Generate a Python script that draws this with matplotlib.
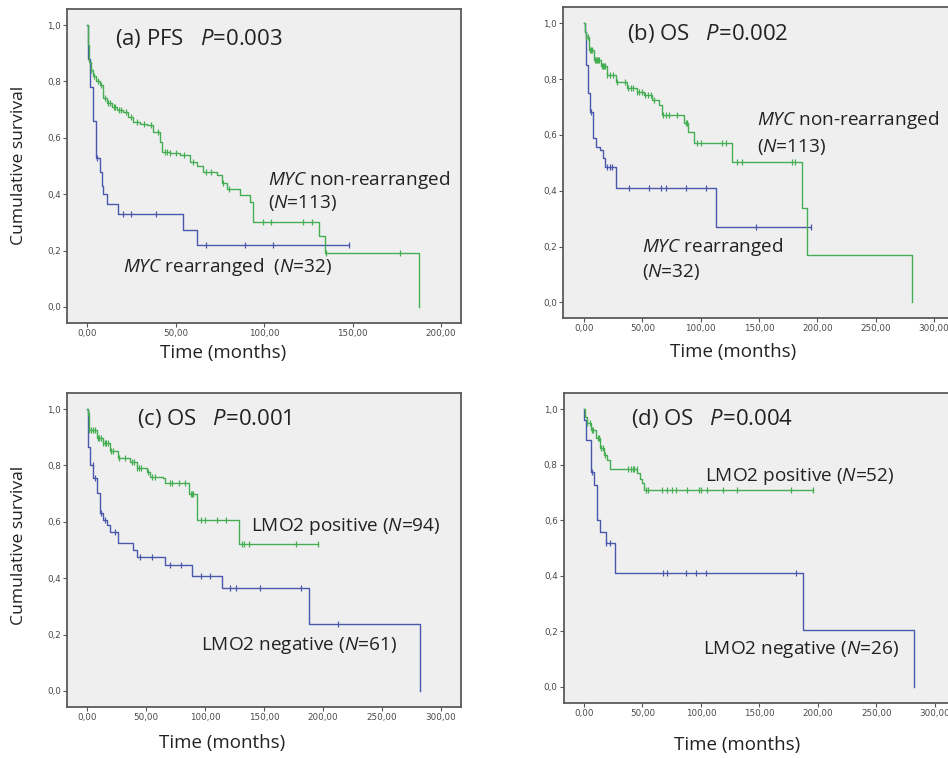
import matplotlib
matplotlib.use("Agg")
import matplotlib.pyplot as plt
import numpy as np
from matplotlib.ticker import FuncFormatter

plt.rcParams['font.family'] = ['Open Sans', 'DejaVu Sans']
plt.rcParams['mathtext.fontset'] = 'custom'
plt.rcParams['mathtext.rm'] = 'Open Sans'
plt.rcParams['mathtext.it'] = 'Open Sans:italic'

GREEN = '#45ad52'
BLUE = '#4a58ac'

# ---- (a) PFS, MYC ----
a_green_t = [0, 0.3, 1, 2, 3.6, 5, 7.3, 9.2, 11.1, 14, 17, 20.5, 23, 26.2, 30, 33.7, 37, 41.2, 42.2,
             47, 52.5, 58.2, 62, 65.7, 73.2, 76, 78.9, 86.4, 92, 93.6, 131, 134.6, 187.4]
a_green_s = [1.0, 0.93, 0.87, 0.84, 0.82, 0.80, 0.787, 0.74, 0.722, 0.71, 0.70, 0.693, 0.675, 0.657,
             0.65, 0.645, 0.62, 0.586, 0.55, 0.545, 0.539, 0.515, 0.50, 0.48, 0.468, 0.44, 0.42,
             0.397, 0.374, 0.30, 0.25, 0.19, 0.0]
a_green_end = 187.4
a_green_cens = [2.5, 4, 6, 8, 10, 12, 13, 15, 16, 18, 19, 22, 25, 28, 32, 36, 40, 44, 45, 47, 50,
                55, 60, 67, 70, 77, 80, 99.7, 104, 122, 127, 135, 177]
a_blue_t = [0, 0.5, 1.5, 3.6, 4.9, 7.3, 8.3, 9.2, 11.1, 17.7, 54.4, 62]
a_blue_s = [1.0, 0.88, 0.78, 0.66, 0.53, 0.48, 0.43, 0.40, 0.366, 0.329, 0.274, 0.22]
a_blue_end = 148
a_blue_cens = [5.5, 20.5, 24.9, 38.8, 67, 89, 105, 148]

# ---- (b) OS, MYC ----
b_green_t = [0, 0.5, 2, 4.3, 8.6, 14.3, 20, 27, 37, 45, 51.4, 58.6, 64.3, 67, 85.7, 89.5, 94, 127,
             187, 191, 281]
b_green_s = [1.0, 0.97, 0.95, 0.904, 0.868, 0.845, 0.815, 0.79, 0.767, 0.755, 0.743, 0.725, 0.707,
             0.672, 0.642, 0.61, 0.57, 0.504, 0.338, 0.169, 0.0]
b_green_end = 281
b_green_cens = [2, 3, 5, 6, 7, 9, 10, 11, 12, 13, 15, 16, 17, 18, 20, 22, 25, 28, 35, 38, 40, 42, 45,
                47, 50, 52, 55, 57, 60, 68, 70, 73, 80, 87, 88, 97, 100, 118, 122, 131, 135, 178, 181]
b_blue_t = [0, 0.5, 2, 3.5, 5, 7.7, 10.6, 13.4, 16.3, 17.7, 27.7, 113.4]
b_blue_s = [1.0, 0.97, 0.85, 0.75, 0.683, 0.588, 0.558, 0.545, 0.516, 0.486, 0.409, 0.271]
b_blue_end = 194.3
b_blue_cens = [6, 20, 22, 24, 38.6, 55.7, 65.7, 70, 87, 104.3, 147, 194.3]

# ---- (c) OS, LMO2 ----
c_green_t = [0, 0.5, 2, 8.2, 13.9, 19.5, 26.6, 36.5, 42, 50.6, 53.4, 64.7, 66, 86.8, 93.6, 128.4]
c_green_s = [1.0, 0.986, 0.927, 0.897, 0.879, 0.85, 0.826, 0.814, 0.79, 0.778, 0.76, 0.755, 0.737,
             0.70, 0.607, 0.521]
c_green_end = 196
c_green_cens = [1, 2, 3, 5, 7, 9, 10, 12, 14, 15, 16, 18, 20, 22, 27, 32, 38, 40, 42, 44, 46, 52, 55,
                58, 70, 72, 78, 83, 88, 89, 90, 97, 100, 110, 118, 131, 133, 137, 177, 196]
c_blue_t = [0, 0.5, 1.1, 2.5, 5.4, 8.2, 11, 13.9, 16.7, 19.5, 26.6, 39.3, 42.1, 66.2, 88.8, 114.2,
            187.7, 281.9]
c_blue_s = [1.0, 0.95, 0.867, 0.802, 0.755, 0.701, 0.630, 0.607, 0.589, 0.565, 0.524, 0.5, 0.476,
            0.447, 0.408, 0.364, 0.239, 0.0]
c_blue_end = 281.9
c_blue_cens = [5, 7, 12, 15, 24, 45, 55, 70, 80, 97, 104, 121, 126, 147, 181, 213]

# ---- (d) OS, LMO2 ----
d_green_t = [0, 1, 2.8, 5.7, 10, 14.2, 17, 20, 22.7, 45.5, 48.3, 49.8, 51]
d_green_s = [1.0, 0.97, 0.95, 0.925, 0.895, 0.86, 0.835, 0.817, 0.783, 0.769, 0.75, 0.733, 0.709]
d_green_end = 196
d_green_cens = [3, 5, 7, 8, 12, 13, 15, 16, 18, 38, 40, 42, 43, 45, 53, 55, 67, 71, 75, 79, 88, 98,
                100, 105, 119, 131, 177, 196]
d_blue_t = [0, 0.5, 1.5, 5.7, 8.5, 11.4, 14.2, 18.5, 27, 187.7, 282]
d_blue_s = [1.0, 0.96, 0.889, 0.775, 0.727, 0.60, 0.559, 0.517, 0.41, 0.206, 0.0]
d_blue_end = 282
d_blue_cens = [7, 19, 22, 68, 71, 87, 96, 104, 181]


def km(ax, t, s, end, cens, color):
    t = np.array(t, float)
    s = np.array(s, float)
    tt = np.append(t, end)
    ss = np.append(s, s[-1])
    ax.step(tt, ss, where='post', color=color, lw=1.0)
    c = np.array(cens, float)
    idx = np.searchsorted(t, c, side='right') - 1
    ax.plot(c, s[idx], ls='none', marker='|', ms=4, mew=0.9, color=color)


def style(ax, xmax, xlim, ylim):
    ax.set_facecolor('#efefef')
    for sp in ax.spines.values():
        sp.set_color('#5a5a5a')
        sp.set_linewidth(1.3)
    ax.set_xlim(*xlim)
    ax.set_ylim(*ylim)
    ax.set_xticks(np.arange(0, xmax + 1, 50))
    ax.set_yticks(np.arange(0, 1.01, 0.2))
    ax.xaxis.set_major_formatter(FuncFormatter(lambda v, p: f"{v:.2f}".replace('.', ',')))
    ax.yaxis.set_major_formatter(FuncFormatter(lambda v, p: f"{v:.1f}".replace('.', ',')))
    ax.tick_params(length=3, width=0.8, color='#555555', pad=1.5, labelsize=6.3,
                   labelcolor='#4a4a4a')
    for lab in ax.get_xticklabels() + ax.get_yticklabels():
        lab.set_family('DejaVu Sans')


fig = plt.figure(figsize=(9.48, 7.58), dpi=100)

axa = fig.add_axes([0.0707, 0.5739, 0.4156, 0.4142])
axb = fig.add_axes([0.5939, 0.5805, 0.4135, 0.4103])
axc = fig.add_axes([0.0707, 0.0673, 0.4156, 0.4142])
axd = fig.add_axes([0.5949, 0.0726, 0.4135, 0.4090])

km(axa, a_blue_t, a_blue_s, a_blue_end, a_blue_cens, BLUE)
km(axa, a_green_t, a_green_s, a_green_end, a_green_cens, GREEN)
style(axa, 200, (-11.3, 211.3), (-0.057, 1.057))

km(axb, b_blue_t, b_blue_s, b_blue_end, b_blue_cens, BLUE)
km(axb, b_green_t, b_green_s, b_green_end, b_green_cens, GREEN)
style(axb, 300, (-18, 318), (-0.056, 1.058))

km(axc, c_blue_t, c_blue_s, c_blue_end, c_blue_cens, BLUE)
km(axc, c_green_t, c_green_s, c_green_end, c_green_cens, GREEN)
style(axc, 300, (-16.9, 316.9), (-0.057, 1.057))

km(axd, d_blue_t, d_blue_s, d_blue_end, d_blue_cens, BLUE)
km(axd, d_green_t, d_green_s, d_green_end, d_green_cens, GREEN)
style(axd, 300, (-17, 318), (-0.058, 1.058))

tc = '#222222'
TS = 15.9   # panel titles
LS = 13.7   # curve labels
axa.text(15.8, 0.953, r"(a) PFS   $\mathit{P}$=0.003", fontsize=TS, va='center', color=tc)
axa.text(102.4, 0.45, r"$\mathit{MYC}$ non-rearranged", fontsize=LS, va='center', color=tc)
axa.text(102.4, 0.368, r"($\mathit{N}$=113)", fontsize=LS, va='center', color=tc)
axa.text(20.2, 0.143, r"$\mathit{MYC}$ rearranged  ($\mathit{N}$=32)", fontsize=LS, va='center', color=tc)

axb.text(37.1, 0.964, r"(b) OS   $\mathit{P}$=0.002", fontsize=TS, va='center', color=tc)
axb.text(148.6, 0.653, r"$\mathit{MYC}$ non-rearranged", fontsize=LS, va='center', color=tc)
axb.text(148.6, 0.558, r"($\mathit{N}$=113)", fontsize=LS, va='center', color=tc)
axb.text(50, 0.2, r"$\mathit{MYC}$ rearranged", fontsize=LS, va='center', color=tc)
axb.text(50, 0.11, r"($\mathit{N}$=32)", fontsize=LS, va='center', color=tc)

axc.text(42, 0.968, r"(c) OS   $\mathit{P}$=0.001", fontsize=TS, va='center', color=tc)
axc.text(138.7, 0.583, r"LMO2 positive ($\mathit{N}$=94)", fontsize=LS, va='center', color=tc)
axc.text(96.6, 0.162, r"LMO2 negative ($\mathit{N}$=61)", fontsize=LS, va='center', color=tc)

axd.text(40.7, 0.966, r"(d) OS   $\mathit{P}$=0.004", fontsize=TS, va='center', color=tc)
axd.text(103.2, 0.757, r"LMO2 positive ($\mathit{N}$=52)", fontsize=LS, va='center', color=tc)
axd.text(101.8, 0.134, r"LMO2 negative ($\mathit{N}$=26)", fontsize=LS, va='center', color=tc)

W, H = 948, 758
for (x, y) in [(223.5, 353), (733, 352), (222, 743), (737, 745)]:
    fig.text(x / W, 1 - y / H, "Time (months)", fontsize=13.5, ha='center', va='center', color=tc)
for y in [165, 545]:
    fig.text(19.5 / W, 1 - y / H, "Cumulative survival", fontsize=12.6, rotation=90,
             ha='center', va='center', color=tc)

fig.savefig('out.png', dpi=100, facecolor='white')
